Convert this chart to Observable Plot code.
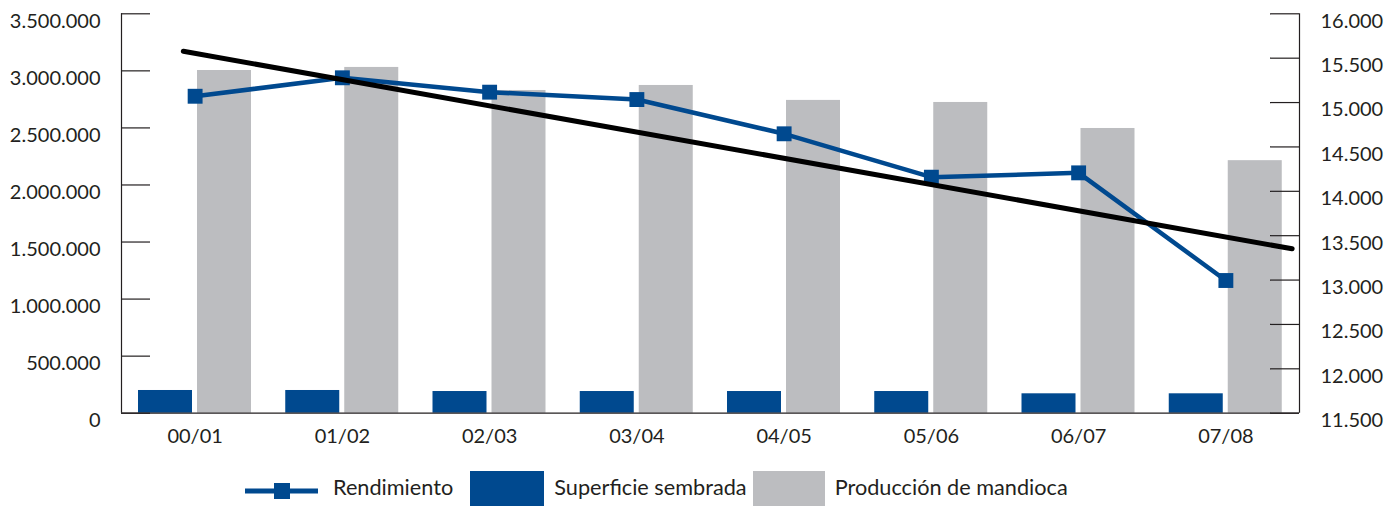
<!DOCTYPE html>
<html>
<head>
<meta charset="utf-8">
<script src="https://cdn.jsdelivr.net/npm/d3@7"></script>
<script src="https://cdn.jsdelivr.net/npm/@observablehq/plot@0.6"></script>
<style>
  html, body { margin: 0; padding: 0; background: #fff; overflow: hidden; }
  body { font-family: Lato, "Open Sans", sans-serif; color: #231f20; width: 1400px; height: 506px; }
  #legend { display: flex; align-items: flex-start; height: 46px; padding-left: 245px; box-sizing: border-box; }
  #legend .txt { font-size: 21.7px; line-height: 21px; margin-top: 17px; white-space: nowrap; }
  #legend .patch { width: 74px; height: 46px; margin-top: 11px; }
</style>
</head>
<body>
<div id="chart"></div>
<div id="legend"></div>
<script>
// Campañas agrícolas
const campanas = ["00/01", "01/02", "02/03", "03/04", "04/05", "05/06", "06/07", "07/08"];
// Superficie sembrada (ha) — eje izquierdo
const superficie = [199000, 199000, 190000, 190000, 190000, 190000, 170000, 170000];
// Producción de mandioca (t) — eje izquierdo
const produccion = [3003000, 3030000, 2828000, 2872000, 2741000, 2723000, 2495000, 2213000];
// Rendimiento (kg/ha) — eje derecho
const rendimiento = [15071, 15279, 15117, 15034, 14648, 14159, 14208, 12995];
// Línea de tendencia del rendimiento: posición (en campañas) y valor de sus extremos
const tendenciaPos = [-0.08, 7.45];
const tendenciaValor = [15578, 13352];
// Marcas de los ejes
const ticksIzq = [0, 500000, 1000000, 1500000, 2000000, 2500000, 3000000, 3500000];
const ticksDer = [11500, 12000, 12500, 13000, 13500, 14000, 14500, 15000, 15500, 16000];

const azul = "#00498f";
const gris = "#bcbdc0";
const tinta = "#231f20";

const fmt = d3.formatLocale({decimal: ",", thousands: ".", grouping: [3], currency: ["$", ""]}).format(",");

// El eje derecho se proyecta sobre la escala del izquierdo
const [izqMin, izqMax] = d3.extent(ticksIzq);
const [derMin, derMax] = d3.extent(ticksDer);
const k = (izqMax - izqMin) / (derMax - derMin);
const aIzq = v => izqMin + (v - derMin) * k;
const aDer = v => derMin + (v - izqMin) / k;

const filas = campanas.map((c, i) => ({i, campana: c, sup: superficie[i], prod: produccion[i], rend: rendimiento[i]}));
const tendencia = tendenciaPos.map((p, j) => ({pos: p + 0.5, valor: tendenciaValor[j]}));

const W = 1400, H = 460, mL = 121, mR = 101, mT = 13.3, mB = 47.3;
const frameW = W - mL - mR;
const tick = 29;

const chart = Plot.plot({
  width: W,
  height: H,
  marginLeft: mL,
  marginRight: mR,
  marginTop: mT,
  marginBottom: mB,
  style: {fontFamily: "Lato, 'Open Sans', sans-serif", fontSize: "20px", color: tinta, background: "#fff"},
  x: {type: "linear", domain: [0, campanas.length]},
  y: {domain: [izqMin, izqMax]},
  marks: [
    Plot.rect(filas, {x1: "i", x2: d => d.i + 1, y1: 0, y2: "sup", fill: azul, insetLeft: 17, insetRight: 76.25}),
    Plot.rect(filas, {x1: "i", x2: d => d.i + 1, y1: 0, y2: "prod", fill: gris, insetLeft: 76, insetRight: 17.25}),
    Plot.ruleY([0], {x1: 0, x2: campanas.length, stroke: tinta, strokeWidth: 1.3}),
    Plot.ruleX([0, campanas.length], {y1: izqMin, y2: izqMax, stroke: tinta, strokeWidth: 1.2}),
    Plot.tickY(ticksIzq, {y: d => d, stroke: tinta, strokeWidth: 1.2, insetRight: frameW - tick}),
    Plot.tickY(ticksDer, {y: d => aIzq(d), stroke: tinta, strokeWidth: 1.2, insetLeft: frameW - tick}),
    Plot.axisY(ticksIzq, {anchor: "left", tickSize: 0, tickPadding: 21, dy: 7.5, tickFormat: fmt, label: null, fontSize: 20}),
    Plot.axisY(ticksDer.map(aIzq), {anchor: "right", tickSize: 0, tickPadding: 21, dy: 7.5, tickFormat: v => fmt(Math.round(aDer(v))), label: null, fontSize: 20}),
    Plot.axisX(filas.map(d => d.i + 0.5), {tickSize: 0, tickPadding: 16, tickFormat: v => campanas[Math.floor(v)], label: null, fontSize: 20}),
    Plot.line(filas, {x: d => d.i + 0.5, y: d => aIzq(d.rend), stroke: azul, strokeWidth: 4.5}),
    Plot.dot(filas, {x: d => d.i + 0.5, y: d => aIzq(d.rend), symbol: "square", r: 8.4, fill: azul}),
    Plot.line(tendencia, {x: "pos", y: d => aIzq(d.valor), stroke: "#000", strokeWidth: 5})
  ]
});
document.getElementById("chart").appendChild(chart);

// Leyenda
const legend = document.getElementById("legend");
legend.innerHTML = `
  <svg width="73" height="16" style="margin-top:22.7px;display:block">
    <line x1="0" x2="73" y1="8" y2="8" stroke="${azul}" stroke-width="5"/>
    <rect x="29" y="0" width="16" height="16" fill="${azul}"/>
  </svg>
  <span class="txt" style="margin-left:15px">Rendimiento</span>
  <div class="patch" style="background:${azul};margin-left:17px"></div>
  <span class="txt" style="margin-left:10px">Superficie sembrada</span>
  <div class="patch" style="background:${gris};margin-left:6px;width:72px"></div>
  <span class="txt" style="margin-left:10px">Producción de mandioca</span>
`;
</script>
</body>
</html>
